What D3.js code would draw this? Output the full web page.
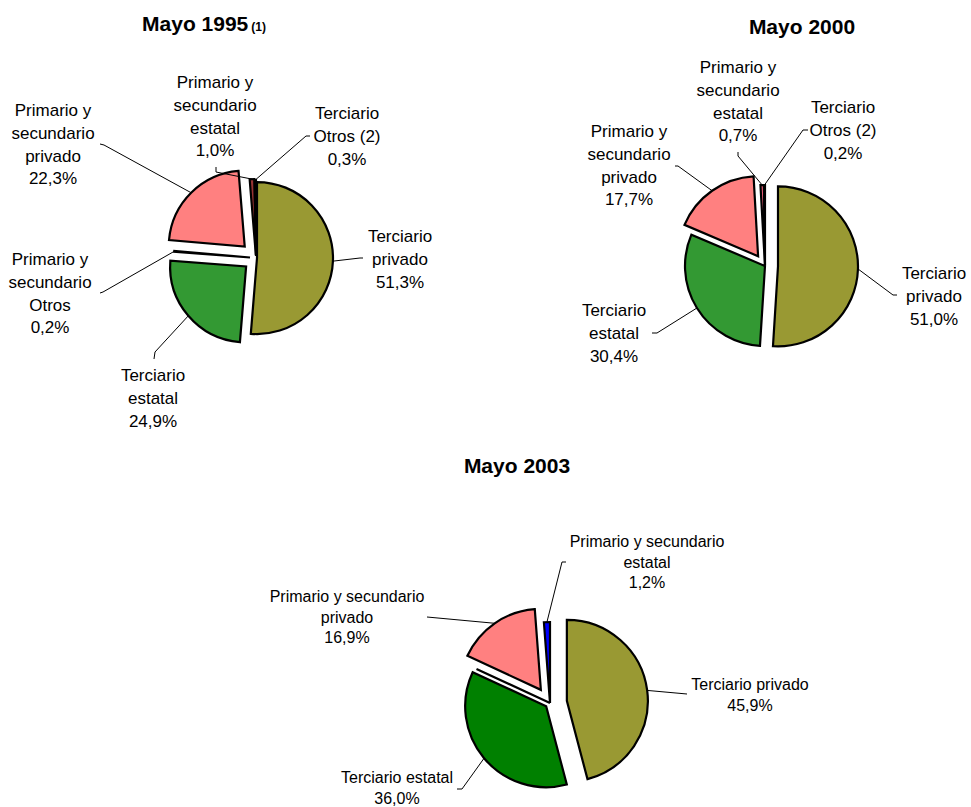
<!DOCTYPE html>
<head>
<meta charset="utf-8">
<style>
  body {
    margin: 0;
    background: #fff;
  }

  svg {
    display: block;
    font-family: "Liberation Sans", Arial, sans-serif;
  }

  .slice {
    stroke: #000;
    stroke-width: 2.2px;
    stroke-linejoin: miter;
  }

  .leader {
    fill: none;
    stroke: #000;
    stroke-width: 1px;
  }

  .title {
    font-weight: bold;
    font-size: 21px;
  }
</style>
</head>
<body>
<svg class="chart" width="971" height="807"></svg>

<script src="https://cdn.jsdelivr.net/npm/d3@7"></script>
<script>
// data (null = category not shown)
var categories = [
  "Terciario privado",
  "Terciario estatal",
  "Primario y secundario Otros",
  "Primario y secundario privado",
  "Primario y secundario estatal",
  "Terciario Otros (2)"
];
var titles = ["Mayo 1995", "Mayo 2000", "Mayo 2003"];
var titleNotes = ["(1)", "", ""];

var values1995 = [51.3, 24.9, 0.2, 22.3, 1.0, 0.3];
var values2000 = [51.0, 30.4, null, 17.7, 0.7, 0.2];
var values2003 = [45.9, 36.0, 0.0, 16.9, 1.2, null];

// label text, wrapped the way each chart shows it
var labelsNarrow = [
  ["Terciario", "privado"],
  ["Terciario", "estatal"],
  ["Primario y", "secundario", "Otros"],
  ["Primario y", "secundario", "privado"],
  ["Primario y", "secundario", "estatal"],
  ["Terciario", "Otros (2)"]
];
var labelsWide = [
  ["Terciario privado"],
  ["Terciario estatal"],
  null,
  ["Primario y secundario", "privado"],
  ["Primario y secundario", "estatal"],
  null
];

// layout and styles per chart (offsets relative to pie centre)
var layout = [
  {
    cx: 256, cy: 258, r: 76, font: 17, lh: 22.8, tx: 204, ty: 31,
    colors: ["#999933", "#339933", "#ffffff", "#ff8080", "#993333", "#800000"],
    explode: [1, 13, 6, 16, 3, 2],
    text: [[144, -16], [-103, 123], [-206, 7], [-203, -142], [-41, -170], [91, -139]],
    leader: [[107, 0, 104, 0], [-102, 101, -101, 94], [-156, 35, -153, 34],
             [-156, -114, -152, -113], [-40, -91, -40, -86], [54, -122, 50, -122]]
  },
  {
    cx: 765, cy: 266, r: 80, font: 17, lh: 22.8, tx: 802, ty: 34,
    colors: ["#999933", "#339933", "#ffffff", "#ff8080", "#f0607a", "#800000"],
    explode: [13, 0, 0, 12, 1, 1],
    text: [[169, 13], [-151, 50], null, [-136, -129], [-27, -193], [78, -153]],
    leader: [[132, 29, 128, 29], [-113, 67, -108, 67], null,
             [-90, -100, -87, -100], [-27, -114, -27, -110], [43, -136, 38, -136]]
  },
  {
    cx: 550, cy: 703, r: 81, font: 16, lh: 20.5, tx: 517, ty: 473,
    colors: ["#999933", "#008000", "#ffffff", "#ff8080", "#0000ff", "#800000"],
    explode: [17, 5, 0, 16, 0, 0],
    text: [[200, -13], [-153, 80], null, [-203, -101], [97, -156], null],
    leader: [[137, -9, 137, -9], [-93, 86, -88, 86], null,
             [-123, -86, -123, -86], [16, -141, 12, -141], null]
  }
];

var series = [values1995, values2000, values2003];
var labelSets = [labelsNarrow, labelsNarrow, labelsWide];

var svg = d3.select("svg");
var fmt = d3.format(".1f");

function pct(v) {
  return fmt(v).replace(".", ",") + "%";
}

series.forEach(function(values, k) {
  var L = layout[k];

  var items = values
    .map(function(v, i) {
      return { i: i, name: categories[i], value: v };
    })
    .filter(function(d) {
      return d.value !== null;
    });

  var pie = d3.pie().sort(null).value(function(d) { return d.value; });
  var arc = d3.arc().innerRadius(0).outerRadius(L.r);
  var arcs = pie(items);

  // title
  var t = svg
    .append("text")
    .attr("class", "title")
    .attr("x", L.tx)
    .attr("y", L.ty)
    .attr("text-anchor", "middle")
    .text(titles[k]);
  if (titleNotes[k]) {
    t.append("tspan").attr("font-size", "12px").attr("dx", 3).text(titleNotes[k]);
  }

  var g = svg
    .append("g")
    .attr("transform", "translate(" + L.cx + "," + L.cy + ")");

  function dir(d) {
    var a = (d.startAngle + d.endAngle) / 2;
    return [Math.sin(a), -Math.cos(a)];
  }

  g.selectAll(".slice")
    .data(arcs)
    .enter()
    .append("path")
    .attr("class", "slice")
    .attr("transform", function(d) {
      var u = dir(d), e = L.explode[d.data.i];
      return "translate(" + u[0] * e + "," + u[1] * e + ")";
    })
    .attr("fill", function(d) { return L.colors[d.data.i]; })
    .attr("d", arc);

  var labelled = arcs.filter(function(d) {
    return labelSets[k][d.data.i] && L.text[d.data.i];
  });

  // leader lines: label side, elbow, then middle of the slice's rim
  g.selectAll(".leader")
    .data(labelled)
    .enter()
    .append("path")
    .attr("class", "leader")
    .attr("d", function(d) {
      var u = dir(d), e = L.explode[d.data.i], p = L.leader[d.data.i];
      var rr = L.r + e;
      return "M" + p[0] + "," + p[1] + "L" + p[2] + "," + p[3] +
        "L" + u[0] * rr + "," + u[1] * rr;
    });

  var labels = g.selectAll(".label")
    .data(labelled)
    .enter()
    .append("text")
    .attr("class", "label")
    .attr("text-anchor", "middle")
    .attr("font-size", L.font + "px")
    .attr("fill", "#000");

  labels.each(function(d) {
    var pos = L.text[d.data.i];
    var lines = labelSets[k][d.data.i].concat([pct(d.data.value)]);
    d3.select(this)
      .selectAll("tspan")
      .data(lines)
      .enter()
      .append("tspan")
      .attr("x", pos[0])
      .attr("y", function(s, j) { return pos[1] + j * L.lh; })
      .text(function(s) { return s; });
  });
});
</script>
</body>
